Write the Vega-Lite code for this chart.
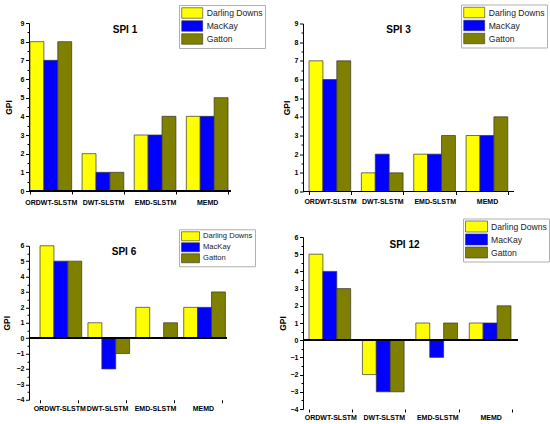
{
  "$schema": "https://vega.github.io/schema/vega-lite/v6.json",
  "padding": {"left": 2, "top": 4, "right": 0, "bottom": 0},
  "background": "white",
  "data": {
    "values": [
      {"panel": "SPI 1", "method": "ORDWT-SLSTM", "site": "Darling Downs", "gpi": 8},
      {"panel": "SPI 1", "method": "ORDWT-SLSTM", "site": "MacKay", "gpi": 7},
      {"panel": "SPI 1", "method": "ORDWT-SLSTM", "site": "Gatton", "gpi": 8},
      {"panel": "SPI 1", "method": "DWT-SLSTM", "site": "Darling Downs", "gpi": 2},
      {"panel": "SPI 1", "method": "DWT-SLSTM", "site": "MacKay", "gpi": 1},
      {"panel": "SPI 1", "method": "DWT-SLSTM", "site": "Gatton", "gpi": 1},
      {"panel": "SPI 1", "method": "EMD-SLSTM", "site": "Darling Downs", "gpi": 3},
      {"panel": "SPI 1", "method": "EMD-SLSTM", "site": "MacKay", "gpi": 3},
      {"panel": "SPI 1", "method": "EMD-SLSTM", "site": "Gatton", "gpi": 4},
      {"panel": "SPI 1", "method": "MEMD", "site": "Darling Downs", "gpi": 4},
      {"panel": "SPI 1", "method": "MEMD", "site": "MacKay", "gpi": 4},
      {"panel": "SPI 1", "method": "MEMD", "site": "Gatton", "gpi": 5},
      {"panel": "SPI 3", "method": "ORDWT-SLSTM", "site": "Darling Downs", "gpi": 7},
      {"panel": "SPI 3", "method": "ORDWT-SLSTM", "site": "MacKay", "gpi": 6},
      {"panel": "SPI 3", "method": "ORDWT-SLSTM", "site": "Gatton", "gpi": 7},
      {"panel": "SPI 3", "method": "DWT-SLSTM", "site": "Darling Downs", "gpi": 1},
      {"panel": "SPI 3", "method": "DWT-SLSTM", "site": "MacKay", "gpi": 2},
      {"panel": "SPI 3", "method": "DWT-SLSTM", "site": "Gatton", "gpi": 1},
      {"panel": "SPI 3", "method": "EMD-SLSTM", "site": "Darling Downs", "gpi": 2},
      {"panel": "SPI 3", "method": "EMD-SLSTM", "site": "MacKay", "gpi": 2},
      {"panel": "SPI 3", "method": "EMD-SLSTM", "site": "Gatton", "gpi": 3},
      {"panel": "SPI 3", "method": "MEMD", "site": "Darling Downs", "gpi": 3},
      {"panel": "SPI 3", "method": "MEMD", "site": "MacKay", "gpi": 3},
      {"panel": "SPI 3", "method": "MEMD", "site": "Gatton", "gpi": 4},
      {"panel": "SPI 6", "method": "ORDWT-SLSTM", "site": "Darling Downs", "gpi": 6},
      {"panel": "SPI 6", "method": "ORDWT-SLSTM", "site": "MacKay", "gpi": 5},
      {"panel": "SPI 6", "method": "ORDWT-SLSTM", "site": "Gatton", "gpi": 5},
      {"panel": "SPI 6", "method": "DWT-SLSTM", "site": "Darling Downs", "gpi": 1},
      {"panel": "SPI 6", "method": "DWT-SLSTM", "site": "MacKay", "gpi": -2},
      {"panel": "SPI 6", "method": "DWT-SLSTM", "site": "Gatton", "gpi": -1},
      {"panel": "SPI 6", "method": "EMD-SLSTM", "site": "Darling Downs", "gpi": 2},
      {"panel": "SPI 6", "method": "EMD-SLSTM", "site": "MacKay", "gpi": 0},
      {"panel": "SPI 6", "method": "EMD-SLSTM", "site": "Gatton", "gpi": 1},
      {"panel": "SPI 6", "method": "MEMD", "site": "Darling Downs", "gpi": 2},
      {"panel": "SPI 6", "method": "MEMD", "site": "MacKay", "gpi": 2},
      {"panel": "SPI 6", "method": "MEMD", "site": "Gatton", "gpi": 3},
      {"panel": "SPI 12", "method": "ORDWT-SLSTM", "site": "Darling Downs", "gpi": 5},
      {"panel": "SPI 12", "method": "ORDWT-SLSTM", "site": "MacKay", "gpi": 4},
      {"panel": "SPI 12", "method": "ORDWT-SLSTM", "site": "Gatton", "gpi": 3},
      {"panel": "SPI 12", "method": "DWT-SLSTM", "site": "Darling Downs", "gpi": -2},
      {"panel": "SPI 12", "method": "DWT-SLSTM", "site": "MacKay", "gpi": -3},
      {"panel": "SPI 12", "method": "DWT-SLSTM", "site": "Gatton", "gpi": -3},
      {"panel": "SPI 12", "method": "EMD-SLSTM", "site": "Darling Downs", "gpi": 1},
      {"panel": "SPI 12", "method": "EMD-SLSTM", "site": "MacKay", "gpi": -1},
      {"panel": "SPI 12", "method": "EMD-SLSTM", "site": "Gatton", "gpi": 1},
      {"panel": "SPI 12", "method": "MEMD", "site": "Darling Downs", "gpi": 1},
      {"panel": "SPI 12", "method": "MEMD", "site": "MacKay", "gpi": 1},
      {"panel": "SPI 12", "method": "MEMD", "site": "Gatton", "gpi": 2}
    ]
  },
  "spacing": 13,
  "vconcat": [
    {
      "spacing": 16,
      "center": true,
      "resolve": {"scale": {"color": "independent"}, "legend": {"color": "independent"}},
      "hconcat": [
        {
          "width": 202,
          "height": 168,
          "title": {"text": "SPI 1", "offset": -30, "dx": -5},
          "transform": [{"filter": "datum.panel == 'SPI 1'"}],
          "resolve": {"axis": {"y": "independent"}},
          "layer": [
            {
              "mark": {"type": "bar", "stroke": "#333", "strokeWidth": 0.7},
              "encoding": {
                "x": {"field": "method", "type": "nominal", "sort": ["ORDWT-SLSTM", "DWT-SLSTM", "EMD-SLSTM", "MEMD"], "scale": {"paddingInner": 0.2, "paddingOuter": 0.038, "align": 0.25}, "axis": {"labelPadding": 4}},
                "xOffset": {"field": "site", "sort": ["Darling Downs", "MacKay", "Gatton"]},
                "y": {"field": "gpi", "type": "quantitative", "scale": {"domain": [0, 9], "nice": false},
                  "axis": {"title": "GPI", "titlePadding": 7, "labelOverlap": false, "values": [0, 0.5, 1, 1.5, 2, 2.5, 3, 3.5, 4, 4.5, 5, 5.5, 6, 6.5, 7, 7.5, 8, 8.5, 9], "labelExpr": "datum.value % 1 ? '' : format(datum.value, 'd')", "tickSize": {"condition": {"test": "datum.value % 1", "value": 2}, "value": 3.5}}},
                "color": {"field": "site", "type": "nominal", "sort": ["Darling Downs", "MacKay", "Gatton"], "scale": {"domain": ["Darling Downs", "MacKay", "Gatton"], "range": ["#FFFF00", "#0000FF", "#808000"]},
                  "legend": {"legendX": 150, "legendY": -18}}
              }
            },
            {"mark": {"type": "rule", "color": "black", "strokeWidth": 1}, "encoding": {"y": {"datum": 0, "type": "quantitative", "axis": null}}}
          ]
        },
        {
          "width": 211,
          "height": 168,
          "title": {"text": "SPI 3", "offset": -31, "dx": -10},
          "transform": [{"filter": "datum.panel == 'SPI 3'"}],
          "resolve": {"axis": {"y": "independent"}},
          "layer": [
            {
              "mark": {"type": "bar", "stroke": "#333", "strokeWidth": 0.7},
              "encoding": {
                "x": {"field": "method", "type": "nominal", "sort": ["ORDWT-SLSTM", "DWT-SLSTM", "EMD-SLSTM", "MEMD"], "scale": {"paddingInner": 0.2, "paddingOuter": 0.115}, "axis": {"labelPadding": 3}},
                "xOffset": {"field": "site", "sort": ["Darling Downs", "MacKay", "Gatton"]},
                "y": {"field": "gpi", "type": "quantitative", "scale": {"domain": [0, 9], "nice": false},
                  "axis": {"title": "GPI", "titlePadding": 3, "labelOverlap": false, "values": [0, 0.5, 1, 1.5, 2, 2.5, 3, 3.5, 4, 4.5, 5, 5.5, 6, 6.5, 7, 7.5, 8, 8.5, 9], "labelExpr": "datum.value % 1 ? '' : format(datum.value, 'd')", "tickSize": {"condition": {"test": "datum.value % 1", "value": 2}, "value": 3.5}}},
                "color": {"field": "site", "type": "nominal", "sort": ["Darling Downs", "MacKay", "Gatton"], "scale": {"domain": ["Darling Downs", "MacKay", "Gatton"], "range": ["#FFFF00", "#0000FF", "#808000"]},
                  "legend": {"legendX": 158, "legendY": -19}}
              }
            },
            {"mark": {"type": "rule", "color": "black", "strokeWidth": 1}, "encoding": {"y": {"datum": 0, "type": "quantitative", "axis": null}}}
          ]
        }
      ]
    },
    {
      "spacing": 22,
      "center": true,
      "resolve": {"scale": {"color": "independent"}, "legend": {"color": "independent"}},
      "hconcat": [
        {
          "width": 198,
          "height": 154,
          "title": {"text": "SPI 6", "offset": -28.5, "dx": -4},
          "transform": [{"filter": "datum.panel == 'SPI 6'"}],
          "resolve": {"axis": {"y": "independent"}},
          "layer": [
            {
              "mark": {"type": "bar", "stroke": "#333", "strokeWidth": 0.7},
              "encoding": {
                "x": {"field": "method", "type": "nominal", "sort": ["ORDWT-SLSTM", "DWT-SLSTM", "EMD-SLSTM", "MEMD"], "scale": {"paddingInner": 0.2, "paddingOuter": 0.167, "align": 0.69}, "axis": {"labelPadding": 1.5}},
                "xOffset": {"field": "site", "sort": ["Darling Downs", "MacKay", "Gatton"]},
                "y": {"field": "gpi", "type": "quantitative", "scale": {"domain": [-4, 6], "nice": false},
                  "axis": {"title": "GPI", "titlePadding": 5, "labelOverlap": false, "values": [-4, -3.5, -3, -2.5, -2, -1.5, -1, -0.5, 0, 0.5, 1, 1.5, 2, 2.5, 3, 3.5, 4, 4.5, 5, 5.5, 6], "labelExpr": "datum.value % 1 ? '' : format(datum.value, 'd')", "tickSize": {"condition": {"test": "datum.value % 1", "value": 2}, "value": 3.5}}},
                "color": {"field": "site", "type": "nominal", "sort": ["Darling Downs", "MacKay", "Gatton"], "scale": {"domain": ["Darling Downs", "MacKay", "Gatton"], "range": ["#FFFF00", "#0000FF", "#808000"]},
                  "legend": {"legendX": 150, "legendY": -16.5, "symbolSize": 81, "symbolOffset": 4.5, "labelOffset": 7.5, "labelFontSize": 7.6, "rowPadding": -6}}
              }
            },
            {"mark": {"type": "rule", "color": "black", "strokeWidth": 1}, "encoding": {"y": {"datum": 0, "type": "quantitative", "axis": null}}}
          ]
        },
        {
          "width": 215,
          "height": 172,
          "title": {"text": "SPI 12", "offset": -32, "dx": -6},
          "transform": [{"filter": "datum.panel == 'SPI 12'"}],
          "resolve": {"axis": {"y": "independent"}},
          "layer": [
            {
              "mark": {"type": "bar", "stroke": "#333", "strokeWidth": 0.7},
              "encoding": {
                "x": {"field": "method", "type": "nominal", "sort": ["ORDWT-SLSTM", "DWT-SLSTM", "EMD-SLSTM", "MEMD"], "scale": {"paddingInner": 0.2, "paddingOuter": 0.112}, "axis": {"labelPadding": 1}},
                "xOffset": {"field": "site", "sort": ["Darling Downs", "MacKay", "Gatton"]},
                "y": {"field": "gpi", "type": "quantitative", "scale": {"domain": [-4, 6], "nice": false},
                  "axis": {"title": "GPI", "titlePadding": 3, "labelOverlap": false, "values": [-4, -3.5, -3, -2.5, -2, -1.5, -1, -0.5, 0, 0.5, 1, 1.5, 2, 2.5, 3, 3.5, 4, 4.5, 5, 5.5, 6], "labelExpr": "datum.value % 1 ? '' : format(datum.value, 'd')", "tickSize": {"condition": {"test": "datum.value % 1", "value": 2}, "value": 3.5}}},
                "color": {"field": "site", "type": "nominal", "sort": ["Darling Downs", "MacKay", "Gatton"], "scale": {"domain": ["Darling Downs", "MacKay", "Gatton"], "range": ["#FFFF00", "#0000FF", "#808000"]},
                  "legend": {"legendX": 160, "legendY": -18.5, "symbolSize": 121, "symbolOffset": 5.5, "labelOffset": 8.5}}
              }
            },
            {"mark": {"type": "rule", "color": "black", "strokeWidth": 1}, "encoding": {"y": {"datum": 0, "type": "quantitative", "axis": null}}}
          ]
        }
      ]
    }
  ],
  "resolve": {"scale": {"color": "independent"}, "legend": {"color": "independent"}},
  "config": {
    "font": "Liberation Sans",
    "view": {"stroke": null},
    "title": {"fontSize": 10, "fontWeight": "bold", "color": "black", "baseline": "alphabetic", "anchor": "middle", "frame": "group"},
    "axis": {"domainColor": "black", "tickColor": "black", "labelColor": "black", "titleColor": "black", "grid": false, "labelFontSize": 7, "labelFontWeight": "bold", "titleFontSize": 8.5, "titleFontWeight": "bold"},
    "axisY": {"labelPadding": 1.5, "domainWidth": 1},
    "axisX": {"title": null, "labelAngle": 0, "domain": false, "tickBand": "extent", "tickSize": 3},
    "legend": {"orient": "none", "title": null, "symbolType": "M-2,-1H2V1H-2Z", "symbolSize": 110, "symbolStrokeColor": "#333", "symbolStrokeWidth": 0.6, "symbolOffset": 5.2, "labelOffset": 8.5, "labelFontSize": 8.6, "labelColor": "#222", "rowPadding": -6.5, "padding": 2, "strokeColor": "#b0b0b0", "fillColor": "white"}
  }
}
